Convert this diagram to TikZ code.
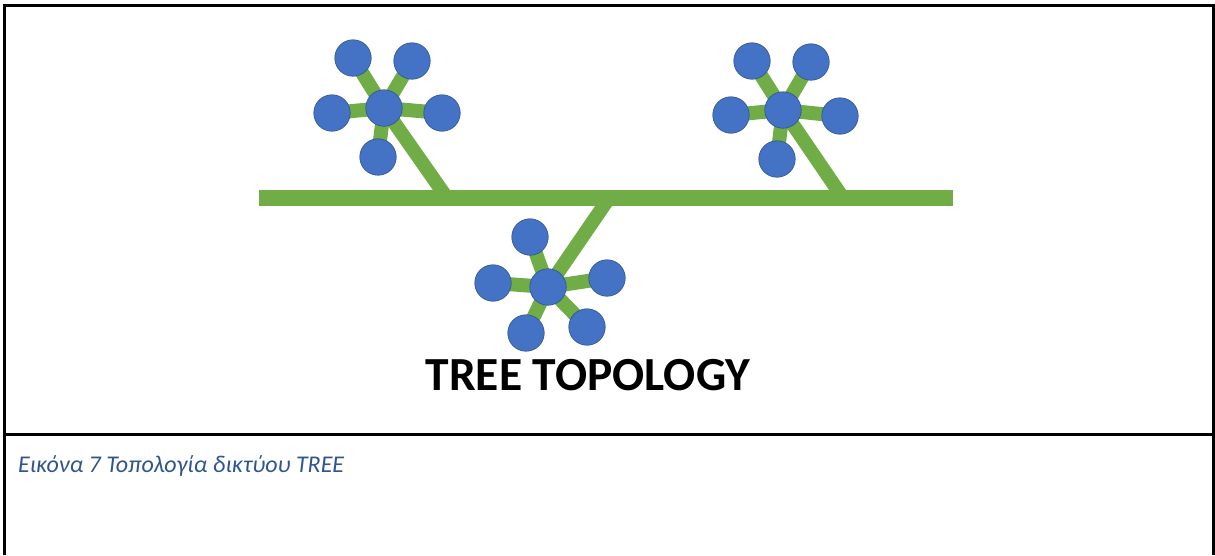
\documentclass[tikz,border=0pt]{standalone}
\usepackage{fontspec}
\setmainfont{Carlito}
\usetikzlibrary{backgrounds}
\definecolor{hostblue}{HTML}{4472C4}
\definecolor{hostedge}{HTML}{2F528F}
\definecolor{cablegreen}{HTML}{70AD47}
\definecolor{captionblue}{HTML}{2E5590}

\begin{document}
\begin{tikzpicture}[x=1pt,y=-1pt,
  host/.style={circle,fill=hostblue,draw=hostedge,line width=0.6pt,minimum size=36.5pt,inner sep=0pt},
  link/.style={draw=cablegreen,line width=14pt},
  frame/.style={line width=3pt,black,line join=miter},
  bus/.style={fill=cablegreen,minimum width=694pt,minimum height=16pt,inner sep=0pt}]
\useasboundingbox (0,0) rectangle (1215,555);

% backbone bus
\node[bus] (bus) at (606,198) {};
\coordinate (tapA) at (447,198);
\coordinate (tapB) at (843,198);
\coordinate (tapC) at (609,198);

% left star
\node[host] (a0) at (384,108) {};
\node[host] (a1) at (353,58) {};
\node[host] (a2) at (412,61) {};
\node[host] (a3) at (332,113) {};
\node[host] (a4) at (442,113) {};
\node[host] (a5) at (378,157) {};

% right star
\node[host] (b0) at (783,110) {};
\node[host] (b1) at (752,61) {};
\node[host] (b2) at (811,62) {};
\node[host] (b3) at (731,115) {};
\node[host] (b4) at (840,116) {};
\node[host] (b5) at (777,159) {};

% lower star
\node[host] (c0) at (548,287) {};
\node[host] (c1) at (530,237) {};
\node[host] (c2) at (493,283) {};
\node[host] (c3) at (607,278) {};
\node[host] (c4) at (526,333) {};
\node[host] (c5) at (587,327) {};

\begin{pgfonlayer}{background}
  \foreach \s in {a,b,c}{
    \foreach \i in {1,...,5}{
      \draw[link] (\s0.center) -- (\s\i.center);
    }
  }
  \draw[link] (a0.center) -- (tapA);
  \draw[link] (b0.center) -- (tapB);
  \draw[link] (c0.center) -- (tapC);
\end{pgfonlayer}

\node[font=\bfseries\fontsize{47.5}{50}\selectfont,anchor=base] (title) at (588,390) {TREE TOPOLOGY};

\node[font=\itshape\fontsize{24}{28}\selectfont,text=captionblue,anchor=base west,inner sep=0pt] (caption) at (18,472) {Εικόνα 7 Τοπολογία δικτύου TREE};

% table frame
\draw[frame] (4,555) -- (4,5.3) -- (1213,5.3) -- (1213,555);
\draw[frame] (4,434.5) -- (1213,434.5);
\end{tikzpicture}
\end{document}
